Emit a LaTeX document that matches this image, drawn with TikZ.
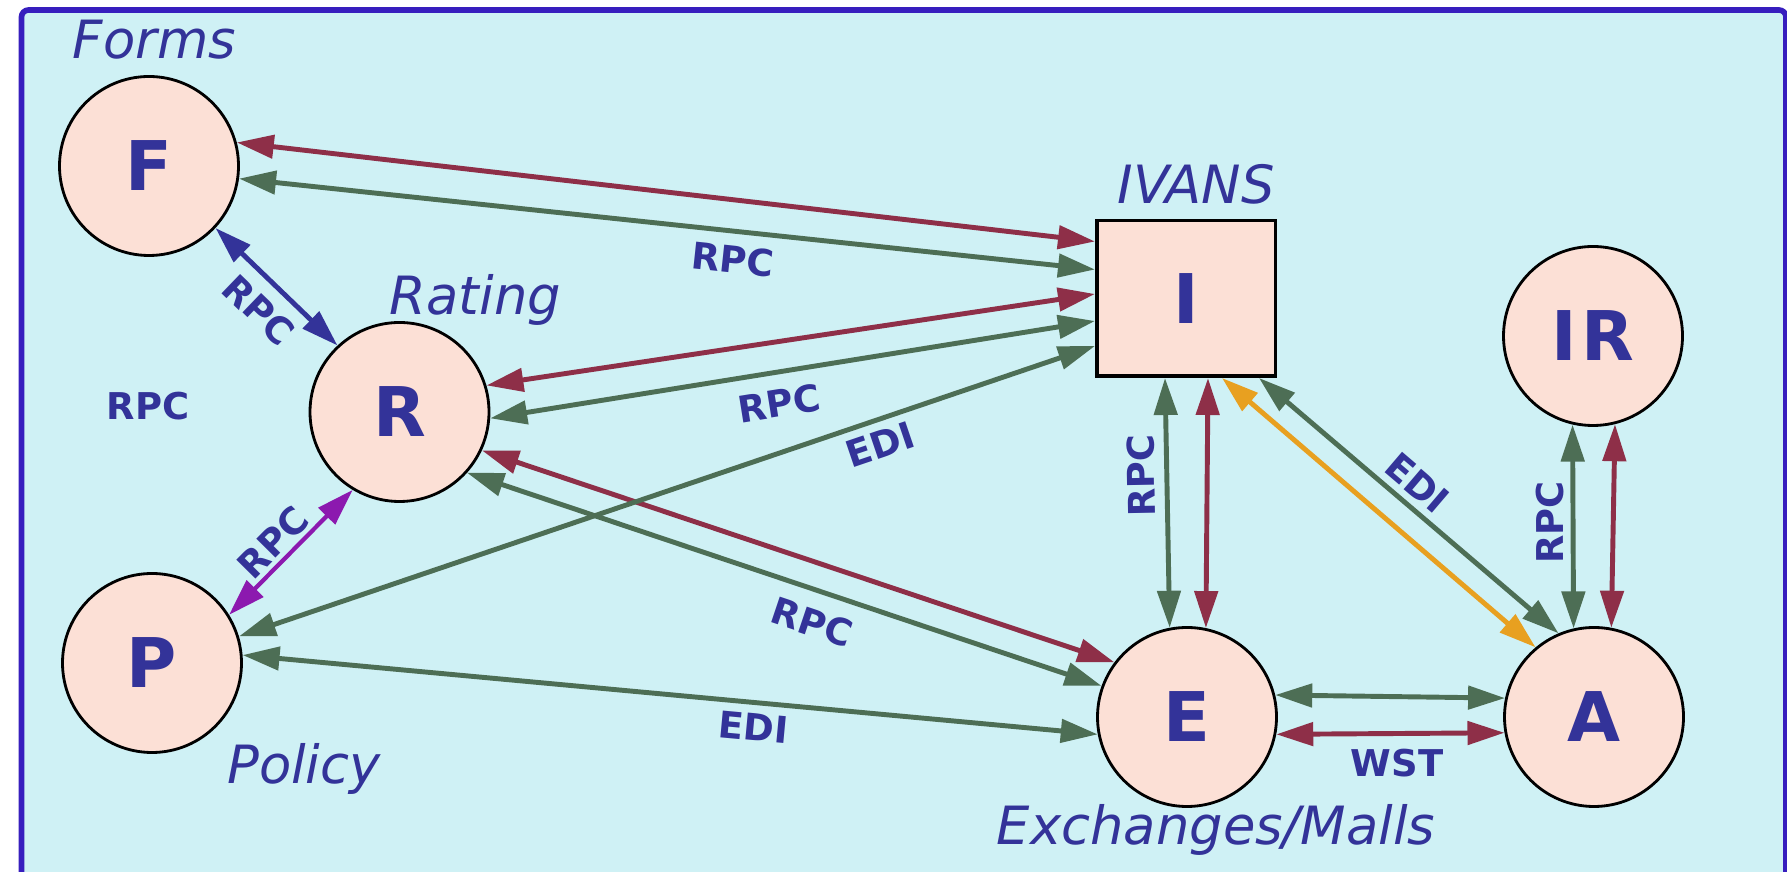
\documentclass[tikz,border=0pt]{standalone}
\usepackage{fontspec}
\setmainfont{DejaVu Sans}[ItalicFont={DejaVu Sans Oblique},BoldFont={DejaVu Sans Bold}]
\usepackage{tikz}
\usetikzlibrary{arrows.meta,positioning,calc}
\definecolor{bgcyan}{RGB}{207,241,245}
\definecolor{framecol}{RGB}{55,30,190}
\definecolor{nodefill}{RGB}{252,224,214}
\definecolor{txtblue}{RGB}{51,51,153}
\definecolor{linkred}{RGB}{142,47,72}
\definecolor{linkgreen}{RGB}{77,110,85}
\definecolor{linkpurple}{RGB}{140,25,175}
\definecolor{linkorange}{RGB}{232,160,32}
\tikzset{
    >={Triangle[length=3.7mm,width=2.3mm]},
    every picture/.style={line width=0.5pt},
    party/.style={circle,draw,line width=0.8pt,fill=nodefill,minimum size=1.79cm,inner sep=0pt,
        text=txtblue,font=\fontsize{19.5}{20}\selectfont\bfseries},
    hub/.style={rectangle,draw,line width=1pt,fill=nodefill,minimum width=1.785cm,minimum height=1.555cm,
        inner sep=0pt,text=txtblue,font=\fontsize{19.5}{20}\selectfont\bfseries},
    role/.style={text=txtblue,font=\fontsize{15}{18}\selectfont\itshape,anchor=base,inner sep=0pt},
    proto/.style={text=txtblue,font=\fontsize{10.5}{12}\selectfont\bfseries,inner sep=1pt},
    link/.style={<->,line width=1.4pt}
}

\begin{document}
\begin{tikzpicture}
    % page and frame
    \useasboundingbox (0,0) rectangle (17.87,8.72);
    \clip (0,0) rectangle (17.87,8.72);
    \draw[framecol,line width=1.6pt,fill=bgcyan,rounded corners=2pt] (0.215,-0.5) rectangle (17.86,8.62);

    % parties
    \node[party] (F) at (1.49,7.06) {F};
    \node[party] (R) at (3.995,4.60) {R};
    \node[party] (P) at (1.52,2.09) {P};
    \node[hub] (I) at (11.86,5.735) {I};
    \node[party] (IR) at (15.93,5.36) {I\kern1.5pt R};
    \node[party] (E) at (11.87,1.55) {E};
    \node[party] (A) at (15.94,1.55) {A};

    % names
    \node[role] (forms) at (1.545,8.13) {Forms};
    \node[role] (rating) at (4.755,5.57) {Rating};
    \node[role] (ivans) at (11.96,6.68) {IVANS};
    \node[role] (policy) at (3.04,0.88) {Policy};
    \node[role] (malls) at (12.16,0.27) {Exchanges/Malls};

    % Forms links
    \draw[link,linkred] (F.15) -- ($(I.west)+(0,0.57)$);
    \draw[link,linkgreen] (F.-8) -- node[proto,sloped,below=2.4pt,pos=0.58] {RPC} ($(I.west)+(0,0.29)$);
    \draw[link,txtblue] (F.-43) -- node[proto,sloped,below=2.6pt,pos=0.52] {RPC} (R.133);

    % Rating links
    \draw[link,linkred] (R.17) -- ($(I.west)+(0,0.045)$);
    \draw[link,linkgreen] (R.-4) -- node[proto,sloped,below=3.2pt,pos=0.47] {RPC} ($(I.west)+(0,-0.225)$);
    \draw[link,linkred] (R.-25) -- (E.143);
    \draw[link,linkgreen] (R.-42) -- node[proto,sloped,below=3.4pt,pos=0.56] {RPC} (E.160);

    % Policy links
    \draw[link,linkpurple,line width=1.2pt] (P.32) -- node[proto,sloped,above,pos=0.47] {RPC} (R.-121);
    \draw[link,linkgreen] (P.17) -- node[proto,sloped,below=1.3pt,pos=0.74] {EDI} ($(I.west)+(0,-0.475)$);
    \draw[link,linkgreen] (P.5) -- node[proto,sloped,below=1.4pt,pos=0.6] {EDI} (E.-169);

    % IVANS links
    \draw[link,linkgreen] (E.101) -- node[proto,sloped,allow upside down,above=1.7pt,pos=0.61] {RPC} ($(I.south)+(-0.21,0)$);
    \draw[link,linkred] (E.78) -- ($(I.south)+(0.22,0)$);
    \draw[link,linkorange] ($(I.south)+(0.36,0)$) -- (A.130);
    \draw[link,linkgreen] ($(I.south)+(0.73,0)$) -- node[proto,sloped,above=1pt,pos=0.48] {EDI} (A.113);

    % Insurer links
    \draw[link,linkgreen] (A.103) -- node[proto,sloped,allow upside down,above=0.8pt,pos=0.52] {RPC} (IR.-103);
    \draw[link,linkred] (A.79) -- (IR.-76);
    \draw[link,linkgreen] (E.14) -- (A.168);
    \draw[link,linkred] (E.-11) -- node[proto,below=2.6pt,pos=0.53] {WST} (A.-170);

    % loose label
    \node[proto] (rpc) at (1.48,4.66) {RPC};
\end{tikzpicture}
\end{document}
